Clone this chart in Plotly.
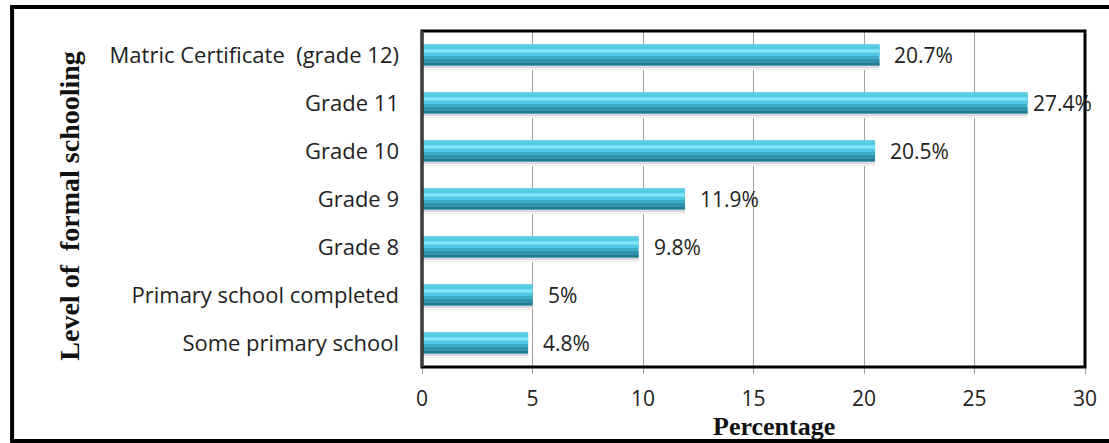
import plotly.graph_objects as go

# Share of respondents by highest level of formal schooling (bottom to top)
levels = [
    "Some primary school",
    "Primary school completed",
    "Grade 8",
    "Grade 9",
    "Grade 10",
    "Grade 11",
    "Matric Certificate  (grade 12)",
]
percent = [4.8, 5, 9.8, 11.9, 20.5, 27.4, 20.7]
x_ticks = [0, 5, 10, 15, 20, 25, 30]

W, H = 1109, 443
L, R, T, B = 422, 19, 31, 76
PW, PH = W - L - R, H - T - B


def px_x(px):
    return (px - L) / PW


def px_y(py):
    return (H - B - py) / PH


fig = go.Figure()

# Layered horizontal bars give the cylinder-like shading:
# (offset, width, colour) measured along the category axis
layers = [
    (-0.31, 0.12, "#EFEFEF"),
    (-0.27, 0.08, "#DCDCDC"),
    (-0.22, 0.44, "#3AAAC5"),
    (-0.22, 0.06, "#2A7A8F"),
    (-0.16, 0.07, "#3192AB"),
    (-0.02, 0.20, "#4EC8E3"),
    (0.04, 0.09, "#6EDAF0"),
    (0.06, 0.05, "#86E4F6"),
    (0.18, 0.04, "#5CCBE3"),
]
for off, wid, col in layers:
    fig.add_trace(go.Bar(
        x=percent,
        y=levels,
        orientation="h",
        offset=off,
        width=wid,
        marker=dict(color=col, line=dict(width=0)),
        hoverinfo="skip",
        showlegend=False,
    ))

# Value labels at the end of each bar
for v, lvl in zip(percent, levels):
    fig.add_annotation(
        x=v, y=lvl, xref="x", yref="y",
        text=f"{v:g}%",
        showarrow=False,
        xanchor="left", yanchor="middle",
        xshift=13 if v < 25 else 3,
        font=dict(family="Open Sans", size=21, color="#222222"),
    )

# Axis titles
fig.add_annotation(
    x=px_x(67), y=px_y(206), xref="paper", yref="paper",
    text="<b>Level of  formal schooling</b>", textangle=-90,
    showarrow=False, xanchor="center", yanchor="middle",
    font=dict(family="Liberation Serif", size=28, color="#111111"),
)
fig.add_annotation(
    x=px_x(777), y=px_y(426), xref="paper", yref="paper",
    text="<b>Percentage</b>",
    showarrow=False, xanchor="center", yanchor="middle",
    font=dict(family="Liberation Serif", size=26, color="#111111"),
)

# Plot-area frame and outer frame
fig.add_shape(type="rect", xref="paper", yref="paper",
              x0=0, x1=1, y0=0, y1=1,
              line=dict(color="black", width=3), layer="above")
fig.add_shape(type="line", xref="paper", yref="paper",
              x0=0, x1=0, y0=0, y1=1,
              line=dict(color="#404040", width=3), layer="above")
fig.add_shape(type="rect", xref="paper", yref="paper",
              x0=px_x(9), x1=px_x(1120), y0=px_y(441), y1=px_y(7),
              line=dict(color="black", width=4), layer="above")

fig.update_layout(
    width=W, height=H,
    margin=dict(l=L, r=R, t=T, b=B),
    paper_bgcolor="white",
    plot_bgcolor="white",
    barmode="overlay",
    xaxis=dict(
        range=[0, 30],
        tickvals=x_ticks,
        showgrid=True, gridcolor="#A0A0A0", gridwidth=1,
        zeroline=False,
        showline=False,
        ticks="outside", ticklen=6, tickcolor="#A0A0A0",
        ticklabelstandoff=7,
        tickfont=dict(family="Open Sans", size=21, color="#222222"),
    ),
    yaxis=dict(
        type="category",
        categoryorder="array", categoryarray=levels,
        showgrid=False, zeroline=False, showline=False,
        ticks="", ticklabelstandoff=22,
        tickfont=dict(family="Open Sans", size=22, color="#222222"),
    ),
)

fig.write_html("out.html")
